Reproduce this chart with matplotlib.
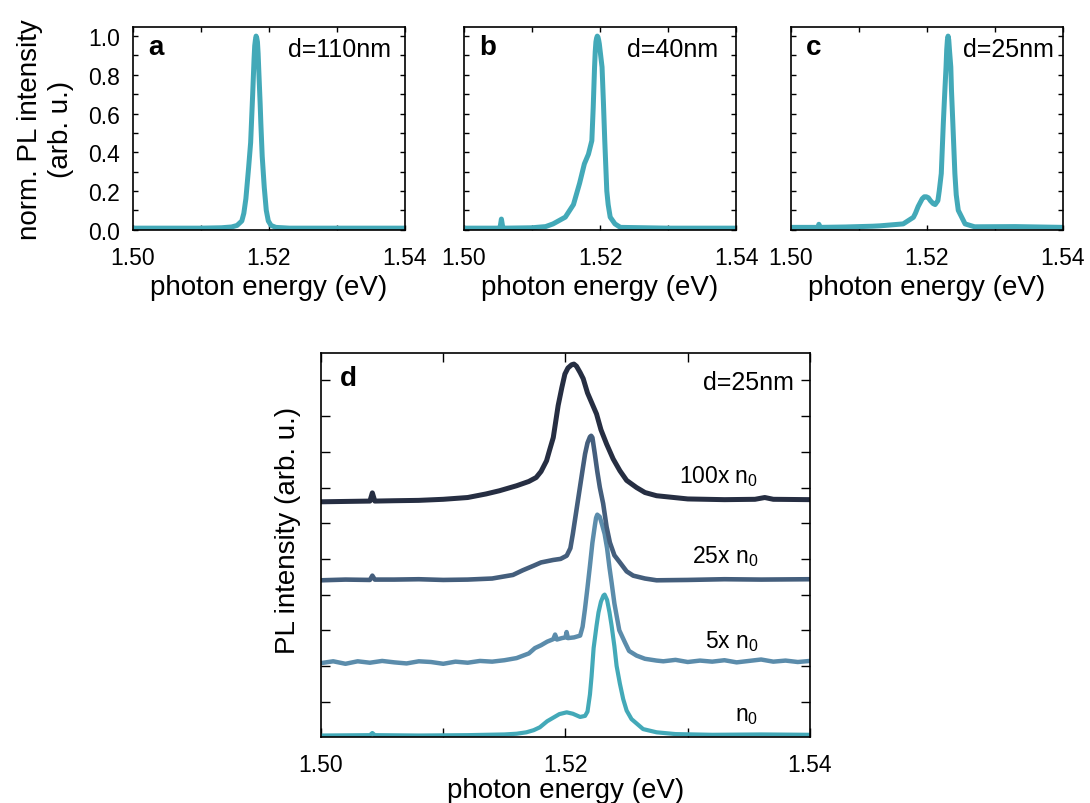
import matplotlib
matplotlib.use("Agg")
import matplotlib.pyplot as plt
from matplotlib.ticker import FixedLocator

plt.rcParams['font.family'] = ['Liberation Sans', 'DejaVu Sans']
plt.rcParams['mathtext.default'] = 'regular'

# ---------------- data ----------------
# panel a: d = 110 nm, normalised PL
a_x = [1.500, 1.505, 1.510, 1.513, 1.5145, 1.5153, 1.5160, 1.5163, 1.5166, 1.5170,
       1.5173, 1.5176, 1.5178, 1.5179, 1.5180, 1.5181, 1.5182, 1.5183, 1.5184, 1.5185,
       1.5187, 1.5188, 1.5190, 1.5193, 1.5196, 1.5199, 1.5203, 1.5210, 1.5230, 1.5300,
       1.5400]
a_y = [0.008, 0.008, 0.008, 0.010, 0.014, 0.022, 0.045, 0.085, 0.16, 0.32,
       0.45, 0.70, 0.88, 0.95, 0.98, 1.00, 0.99, 0.97, 0.91, 0.82,
       0.65, 0.55, 0.38, 0.22, 0.10, 0.045, 0.022, 0.012, 0.008, 0.008,
       0.008]

# panel b: d = 40 nm
b_x = [1.500, 1.505, 1.5053, 1.5055, 1.5057, 1.5060, 1.510, 1.512, 1.5131, 1.5149,
       1.5161, 1.5170, 1.5177, 1.5183, 1.5188, 1.5190, 1.5192, 1.5193, 1.5194, 1.5195,
       1.5196, 1.5197, 1.5198, 1.5199, 1.5201, 1.5203, 1.5205, 1.5207, 1.5210, 1.5212,
       1.5215, 1.5222, 1.5230, 1.5300, 1.5400]
b_y = [0.008, 0.008, 0.010, 0.055, 0.012, 0.008, 0.010, 0.016, 0.030, 0.065,
       0.13, 0.24, 0.34, 0.39, 0.46, 0.63, 0.84, 0.92, 0.97, 0.99,
       1.00, 0.995, 0.98, 0.96, 0.90, 0.84, 0.66, 0.46, 0.20, 0.13,
       0.065, 0.030, 0.012, 0.008, 0.008]

# panel c: d = 25 nm
c_x = [1.500, 1.504, 1.5041, 1.5043, 1.508, 1.512, 1.5131, 1.5165, 1.5180, 1.5183,
       1.5187, 1.5190, 1.5193, 1.5196, 1.5199, 1.5202, 1.5205, 1.5209, 1.5212, 1.5216,
       1.5218, 1.5221, 1.5224, 1.5226, 1.5228, 1.5229, 1.5230, 1.5231, 1.5232, 1.5233,
       1.5235, 1.5236, 1.5238, 1.5241, 1.5243, 1.5246, 1.5256, 1.5270, 1.5330, 1.5400]
c_y = [0.012, 0.012, 0.028, 0.012, 0.014, 0.018, 0.020, 0.030, 0.064, 0.085,
       0.12, 0.14, 0.16, 0.17, 0.17, 0.165, 0.15, 0.135, 0.13, 0.15,
       0.20, 0.29, 0.55, 0.70, 0.84, 0.93, 0.98, 1.00, 0.98, 0.93,
       0.84, 0.72, 0.55, 0.29, 0.18, 0.10, 0.030, 0.015, 0.016, 0.012]

# panel d: d = 25 nm, different excitation densities (values include offsets)
n0_x = [1.500, 1.504, 1.5042, 1.5044, 1.508, 1.512, 1.515, 1.516, 1.5168, 1.5174,
        1.5179, 1.5185, 1.5190, 1.5195, 1.5201, 1.5206, 1.5212, 1.5216, 1.5218, 1.5220,
        1.52213, 1.5223, 1.52254, 1.5227, 1.5229, 1.5231, 1.5232, 1.5234, 1.5236, 1.52377,
        1.5240, 1.52418, 1.52445, 1.52472, 1.5250, 1.5254, 1.52635, 1.52745, 1.529, 1.532,
        1.536, 1.540]
n0_y = [0.05, 0.06, 0.12, 0.06, 0.05, 0.06, 0.08, 0.10, 0.14, 0.20,
        0.28, 0.45, 0.55, 0.65, 0.70, 0.66, 0.57, 0.60, 0.72, 1.20,
        1.70, 2.50, 3.13, 3.50, 3.80, 3.97, 4.00, 3.85, 3.50, 3.13,
        2.55, 2.00, 1.50, 1.07, 0.75, 0.51, 0.23, 0.14, 0.09, 0.07,
        0.08, 0.07]

x5_x = [1.500, 1.501, 1.502, 1.503, 1.504, 1.505, 1.506, 1.507, 1.508, 1.509,
        1.510, 1.511, 1.512, 1.513, 1.514, 1.515, 1.516, 1.517, 1.5175, 1.518,
        1.5185, 1.5190, 1.51915, 1.5193, 1.5197, 1.5200, 1.52009, 1.5202, 1.5207, 1.5212,
        1.5214, 1.52159, 1.5218, 1.5220, 1.5222, 1.5224, 1.5225, 1.5226, 1.5228, 1.5230,
        1.5232, 1.5234, 1.5236, 1.52377, 1.5240, 1.52418, 1.5244, 1.52486, 1.5252, 1.52581,
        1.5265, 1.52745, 1.528, 1.529, 1.530, 1.531, 1.532, 1.533, 1.534, 1.535,
        1.536, 1.537, 1.538, 1.539, 1.540]
x5_y = [2.08, 2.13, 2.06, 2.13, 2.09, 2.14, 2.10, 2.07, 2.13, 2.11,
        2.06, 2.12, 2.09, 2.14, 2.12, 2.16, 2.22, 2.35, 2.50, 2.58,
        2.68, 2.75, 2.88, 2.74, 2.78, 2.80, 2.95, 2.78, 2.80, 2.85,
        3.10, 3.59, 4.20, 4.81, 5.45, 5.93, 6.15, 6.24, 6.18, 5.95,
        5.70, 5.30, 4.75, 4.34, 3.75, 3.41, 3.00, 2.66, 2.42, 2.29,
        2.20, 2.15, 2.13, 2.17, 2.11, 2.15, 2.12, 2.16, 2.10, 2.14,
        2.18, 2.12, 2.15, 2.11, 2.14]

x25_x = [1.500, 1.502, 1.504, 1.5042, 1.5044, 1.506, 1.508, 1.510, 1.512, 1.514,
         1.5157, 1.5165, 1.5174, 1.518, 1.519, 1.5196, 1.5201, 1.5204, 1.5206, 1.5208,
         1.5210, 1.5212, 1.5214, 1.5216, 1.5218, 1.5220, 1.5221, 1.5222, 1.5224, 1.5226,
         1.52281, 1.52308, 1.52336, 1.52363, 1.5240, 1.52445, 1.5250, 1.52554, 1.5265, 1.52745,
         1.530, 1.533, 1.536, 1.540]
x25_y = [4.40, 4.42, 4.41, 4.53, 4.42, 4.42, 4.43, 4.41, 4.42, 4.45,
         4.55, 4.68, 4.81, 4.90, 4.97, 5.00, 5.09, 5.30, 5.70, 6.15,
         6.60, 7.05, 7.50, 7.94, 8.25, 8.42, 8.45, 8.40, 7.94, 7.45,
         7.00, 6.55, 5.90, 5.46, 5.10, 4.90, 4.65, 4.53, 4.45, 4.40,
         4.41, 4.43, 4.42, 4.43]

x100_x = [1.500, 1.502, 1.504, 1.5042, 1.5044, 1.506, 1.508, 1.510, 1.512, 1.5135,
          1.5146, 1.516, 1.5170, 1.5176, 1.5180, 1.51845, 1.5187, 1.5190, 1.5192, 1.5194,
          1.5197, 1.51995, 1.5202, 1.5205, 1.52069, 1.5209, 1.5212, 1.52145, 1.5218, 1.52254,
          1.5229, 1.52336, 1.5239, 1.52445, 1.5250, 1.52581, 1.5265, 1.52745, 1.530, 1.533,
          1.5355, 1.5363, 1.537, 1.540]
x100_y = [6.60, 6.61, 6.62, 6.85, 6.62, 6.63, 6.64, 6.67, 6.72, 6.82,
          6.91, 7.05, 7.17, 7.28, 7.45, 7.75, 8.05, 8.40, 8.85, 9.30,
          9.80, 10.18, 10.35, 10.44, 10.46, 10.40, 10.22, 10.05, 9.65, 9.06,
          8.62, 8.22, 7.80, 7.47, 7.20, 7.00, 6.86, 6.77, 6.68, 6.66,
          6.67, 6.72, 6.67, 6.66]

d_series = [(n0_x, n0_y, '#43a9b8', 'n$_0$', 0.47, 3.0),
            (x5_x, x5_y, '#5b8cab', '5x n$_0$', 2.54, 3.2),
            (x25_x, x25_y, '#445e7c', '25x n$_0$', 4.90, 3.3),
            (x100_x, x100_y, '#262e42', '100x n$_0$', 7.14, 3.6)]

top_panels = [('a', 'd=110nm', a_x, a_y, 0.947),
              ('b', 'd=40nm', b_x, b_y, 0.936),
              ('c', 'd=25nm', c_x, c_y, 0.965)]
xticks = [1.50, 1.52, 1.54]
xtick_labels = ['1.50', '1.52', '1.54']
yticks_top = [0.0, 0.2, 0.4, 0.6, 0.8, 1.0]
ytick_labels_top = ['0.0', '0.2', '0.4', '0.6', '0.8', '1.0']
TEAL = '#43a9b8'

# ---------------- figure ----------------
W, H = 1090, 804
fig = plt.figure(figsize=(W / 100, H / 100), dpi=100)

def px_axes(l, t, r, b):
    return fig.add_axes([l / W, 1 - b / H, (r - l) / W, (b - t) / H])

lefts = [133, 464, 791]
for i, (lab, dlab, xs, ys, rx) in enumerate(top_panels):
    ax = px_axes(lefts[i], 28, lefts[i] + 272, 230.7)
    ax.plot(xs, ys, color=TEAL, lw=3.6, solid_capstyle='round', solid_joinstyle='round')
    ax.set_xlim(1.50, 1.54)
    ax.set_ylim(0, 1.047)
    ax.set_xticks(xticks)
    ax.set_xticklabels(xtick_labels)
    ax.xaxis.set_minor_locator(FixedLocator([1.51, 1.53]))
    ax.set_yticks(yticks_top)
    ax.yaxis.set_minor_locator(FixedLocator([0.1, 0.3, 0.5, 0.7, 0.9]))
    ax.tick_params(which='both', direction='in', top=True, right=True,
                   length=3.5, width=1.0, labelsize=16.5)
    ax.tick_params(axis='x', which='major', pad=11.5)
    ax.tick_params(axis='y', which='major', pad=9.5)
    if i == 0:
        ax.set_yticklabels(ytick_labels_top)
        ax.set_ylabel('norm. PL intensity\n(arb. u.)', fontsize=20, linespacing=1.25,
                      labelpad=10)
    else:
        ax.tick_params(axis='y', labelleft=False)
    ax.set_xlabel('photon energy (eV)', fontsize=20, labelpad=4)
    for s in ax.spines.values():
        s.set_linewidth(1.2)
    ax.text(0.055, 0.90, lab, transform=ax.transAxes, fontsize=20, fontweight='bold',
            ha='left', va='center')
    ax.text(rx, 0.89, dlab, transform=ax.transAxes, fontsize=18, ha='right', va='center')

# panel d
axd = px_axes(321, 354, 810, 738.3)
for xs, ys, col, lab, ly, lw in d_series:
    axd.plot(xs, ys, color=col, lw=lw, solid_capstyle='round', solid_joinstyle='round')
    axd.text(1.5358, ly, lab, fontsize=16.5, ha='right', va='baseline')
axd.set_xlim(1.50, 1.54)
axd.set_ylim(0, 10.77)
axd.set_xticks(xticks)
axd.set_xticklabels(xtick_labels)
axd.xaxis.set_minor_locator(FixedLocator([1.51, 1.53]))
axd.set_yticks(range(1, 11))
axd.tick_params(which='both', direction='in', top=True, right=True,
                length=6.5, width=1.0, labelsize=16.5, pad=11, labelleft=False)
axd.set_xlabel('photon energy (eV)', fontsize=20, labelpad=1)
axd.set_ylabel('PL intensity (arb. u.)', fontsize=20)
axd.yaxis.set_label_coords(-0.04, 0.54)
for s in axd.spines.values():
    s.set_linewidth(1.2)
axd.text(0.038, 0.935, 'd', transform=axd.transAxes, fontsize=20, fontweight='bold',
         ha='left', va='center')
axd.text(0.967, 0.925, 'd=25nm', transform=axd.transAxes, fontsize=18,
         ha='right', va='center')

fig.savefig('out.png', dpi=100)
